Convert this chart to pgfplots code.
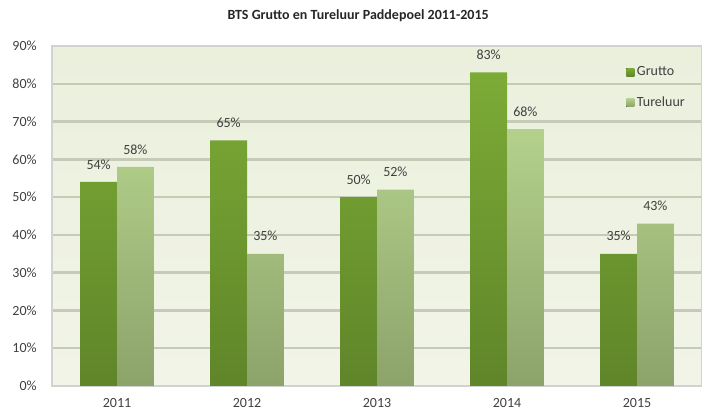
\documentclass[border=0pt]{standalone}
\usepackage{pgfplots}
\pgfplotsset{compat=1.18}
\usepackage{fontspec}
\setmainfont{Carlito}

\definecolor{gruttoTop}{HTML}{7CAB36}
\definecolor{gruttoBot}{HTML}{5F8529}
\definecolor{turTop}{HTML}{B4D18C}
\definecolor{turBot}{HTML}{8CA36A}
\definecolor{gridc}{HTML}{C6CBB8}
\definecolor{bgTop}{HTML}{EBF0DD}
\definecolor{bgBot}{HTML}{F1F4E7}
\definecolor{txt}{HTML}{404040}

\begin{document}
\begin{tikzpicture}
\begin{axis}[
    scale only axis,
    width=487.5pt, height=255pt,
    ybar=0pt, bar width=0.283,
    xmin=-0.5, xmax=4.5,
    ymin=0, ymax=90,
    xtick=data,
    xticklabels={2011,2012,2013,2014,2015},
    ytick={0,10,...,90},
    /pgf/number format/assume math mode=true,
    yticklabel={\pgfmathprintnumber{\tick}\%},
    ymajorgrids,
    grid style={line width=1.8pt, color=gridc},
    axis background/.style={top color=bgTop, bottom color=bgBot},
    axis line style={color=gray!35, line width=0.8pt},
    major tick length=0pt,
    tick label style={font=\fontsize{10.5}{12}\selectfont, text=txt},
    xticklabel style={yshift=-6pt},
    yticklabel style={xshift=-8pt},
    title={BTS Grutto en Tureluur Paddepoel 2011-2015},
    title style={at={(0.471,1)}, anchor=south, yshift=9pt, font=\fontsize{10.5}{12}\selectfont\bfseries, text=black!85},
    nodes near coords={\pgfmathprintnumber{\pgfplotspointmeta}\%},
    every node near coord/.append style={font=\fontsize{10.5}{12}\selectfont, text=txt, yshift=6pt},
    legend style={at={(0.877,0.955)}, anchor=north west, draw=none, fill=none,
        font=\fontsize{10.5}{12}\selectfont, text=txt, row sep=10pt,
        legend cell align=left},
    legend image code/.code={\fill[#1] (0pt,-3pt) rectangle (6pt,3pt);},
]
\addplot[draw=none, top color=gruttoTop, bottom color=gruttoBot] coordinates {(0,54) (1,65) (2,50) (3,83) (4,35)};
\addplot[draw=none, top color=turTop, bottom color=turBot] coordinates {(0,58) (1,35) (2,52) (3,68) (4,43)};
\legend{Grutto, Tureluur}
\end{axis}
\pgfresetboundingbox
\path (current axis.south west) ++(-39pt,-21pt) coordinate (a);
\path (current axis.north east) ++(0pt,34.5pt) coordinate (b);
\path[use as bounding box] (a) rectangle (b);
\end{tikzpicture}
\end{document}
